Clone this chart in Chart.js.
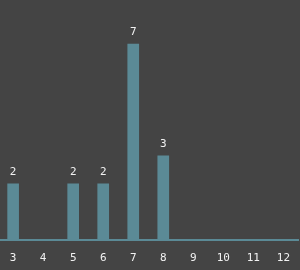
<!DOCTYPE html>
<html><head><meta charset="utf-8">
<script src="https://cdn.jsdelivr.net/npm/chart.js@4/dist/chart.umd.min.js"></script>
<style>html,body{margin:0;padding:0;background:#444444;overflow:hidden;}#wrap{width:300px;height:270px;overflow:hidden;position:relative;}#c{position:absolute;left:-2px;top:0;}</style>
</head><body><div id="wrap"><canvas id="c" width="304" height="270"></canvas></div>
<script>
const categories = ["3","4","5","6","7","8","9","10","11","12"];
const counts = [2,0,2,2,7,3,0,0,0,0];
const yMax = 8;

const valueLabels = {
  id: 'valueLabels',
  afterDatasetsDraw(chart) {
    const ctx = chart.ctx;
    const meta = chart.getDatasetMeta(0);
    ctx.save();
    ctx.fillStyle = '#f2f2f2';
    ctx.font = '11px "DejaVu Sans Mono", monospace';
    ctx.textAlign = 'center';
    ctx.textBaseline = 'bottom';
    meta.data.forEach((bar, i) => {
      const v = counts[i];
      if (v > 0) ctx.fillText(String(v), bar.x, bar.y - 6);
    });
    ctx.restore();
  }
};

new Chart(document.getElementById('c'), {
  type: 'bar',
  data: {
    labels: categories,
    datasets: [{
      data: counts,
      backgroundColor: '#5b8a96',
      borderWidth: 0,
      barThickness: 11
    }]
  },
  options: {
    responsive: false,
    animation: false,
    layout: { padding: { left: 0, right: 0, top: 16, bottom: -7 } },
    plugins: { legend: { display: false }, tooltip: { enabled: false } },
    scales: {
      x: {
        grid: { display: false, drawTicks: false },
        border: { display: true, color: '#5b8a96', width: 2 },
        ticks: { color: '#f2f2f2', font: { family: '"DejaVu Sans Mono", monospace', size: 11 }, padding: 12, maxRotation: 0, autoSkip: false }
      },
      y: { display: false, min: 0, max: yMax }
    }
  },
  plugins: [valueLabels]
});
</script></body></html>
